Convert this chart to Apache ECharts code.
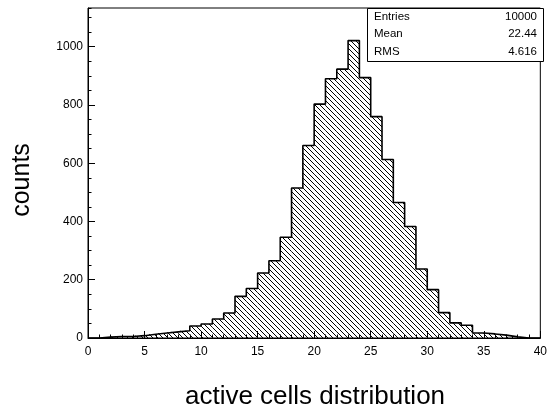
<!DOCTYPE html>
<html>
<head>
<meta charset="utf-8">
<script src="https://cdn.jsdelivr.net/npm/echarts@6/dist/echarts.min.js"></script>
<style>
html,body{margin:0;padding:0;background:#fff;}
#chart{width:550px;height:411px;}
</style>
</head>
<body>
<div id="chart"></div>
<script>
// Histogram: 40 bins of width 1 from 0 to 40
const binEdgesStart = 0;
const binWidth = 1;
const counts = [0, 3, 5, 5, 8, 13, 17, 21, 25, 41,
                48, 65, 86, 143, 170, 223, 265, 346, 515, 661,
                803, 890, 923, 1021, 894, 760, 613, 465, 383, 237,
                166, 87, 52, 44, 17, 14, 10, 4, 0, 0];
const statLabels = ['Entries', 'Mean', 'RMS'];
const statValues = ['10000', '22.44', '4.616'];
const xTitle = 'active cells distribution';
const yTitle = 'counts';

const FONT = '"Liberation Sans", Arial, Helvetica, sans-serif';

// hatch pattern (\\\\ lines)
function makeHatch() {
  const n = 5;
  const c = document.createElement('canvas');
  c.width = n; c.height = n;
  const g = c.getContext('2d');
  g.strokeStyle = '#000';
  g.lineWidth = 1;
  for (let k = -n; k <= n; k += n) {
    g.beginPath();
    g.moveTo(-1 + k, -1);
    g.lineTo(n + 1 + k, n + 1);
    g.stroke();
  }
  return c;
}
const hatch = makeHatch();

const rectData = counts.map((v, i) => [binEdgesStart + i * binWidth, binEdgesStart + (i + 1) * binWidth, v]);
const stepData = counts.map((v, i) => [binEdgesStart + i * binWidth, v]);
stepData.push([binEdgesStart + counts.length * binWidth, counts[counts.length - 1]]);

const yMax = 1133;

const chart = echarts.init(document.getElementById('chart'), null, {renderer: 'canvas'});
const grid = {left: 88, right: 7, top: 8, bottom: 73, show: true, borderColor: '#000', borderWidth: 1, backgroundColor: 'transparent'};

const statGraphics = [];
statGraphics.push({type: 'rect', left: 367, top: 8, z: 100, shape: {width: 176, height: 53}, style: {fill: '#fff', stroke: '#000', lineWidth: 1}});
const rowY = [16.5, 34, 51.5];
statLabels.forEach((lab, i) => {
  statGraphics.push({type: 'text', x: 374, y: rowY[i], z: 101, style: {text: lab, font: '11.5px ' + FONT, fill: '#000', textAlign: 'left', textVerticalAlign: 'middle'}});
  statGraphics.push({type: 'text', x: 537, y: rowY[i], z: 101, style: {text: statValues[i], font: '11.5px ' + FONT, fill: '#000', textAlign: 'right', textVerticalAlign: 'middle'}});
});
statGraphics.push({type: 'text', x: 315, y: 397, z: 101, style: {text: xTitle, font: '26px ' + FONT, fill: '#000', textAlign: 'center', textVerticalAlign: 'middle'}});
statGraphics.push({type: 'text', x: 22, y: 180, rotation: Math.PI / 2, z: 101, style: {text: yTitle, font: '25px ' + FONT, fill: '#000', textAlign: 'center', textVerticalAlign: 'middle'}});

chart.setOption({
  animation: false,
  backgroundColor: '#fff',
  grid: grid,
  xAxis: {
    type: 'value', min: 0, max: 40, interval: 5,
    axisLine: {show: true, onZero: false, lineStyle: {color: '#000', width: 1}},
    axisTick: {show: true, inside: true, length: 7, lineStyle: {color: '#000'}},
    minorTick: {show: true, splitNumber: 5, length: 3.5, lineStyle: {color: '#000'}},
    axisLabel: {color: '#000', fontSize: 12, fontFamily: FONT, margin: 8, formatter: v => String(v)},
    splitLine: {show: false}
  },
  yAxis: [{
    type: 'value', min: 0, max: yMax, interval: 200,
    axisLine: {show: true, lineStyle: {color: '#000', width: 1}},
    axisTick: {show: true, inside: true, length: 7, lineStyle: {color: '#000'}},
    axisLabel: {color: '#000', fontSize: 12, fontFamily: FONT, margin: 5, showMaxLabel: false, formatter: v => String(v)},
    splitLine: {show: false}
  }, {
    type: 'value', min: 0, max: yMax, interval: 50, position: 'left',
    axisLine: {show: false},
    axisTick: {show: true, inside: true, length: 3.5, lineStyle: {color: '#000'}},
    axisLabel: {show: false},
    splitLine: {show: false}
  }],
  graphic: statGraphics,
  series: [{
    type: 'custom',
    data: rectData,
    encode: {x: [0, 1], y: 2},
    renderItem: function (params, api) {
      const p0 = api.coord([api.value(0), api.value(2)]);
      const p1 = api.coord([api.value(1), 0]);
      return {
        type: 'rect',
        shape: {x: p0[0], y: p0[1], width: p1[0] - p0[0], height: p1[1] - p0[1]},
        style: {fill: {image: hatch, repeat: 'repeat'}, stroke: null}
      };
    },
    z: 2
  }, {
    type: 'line',
    data: stepData,
    step: 'end',
    symbol: 'none',
    sampling: null,
    lineStyle: {color: '#000', width: 1.6},
    z: 3
  }]
});
</script>
</body>
</html>
